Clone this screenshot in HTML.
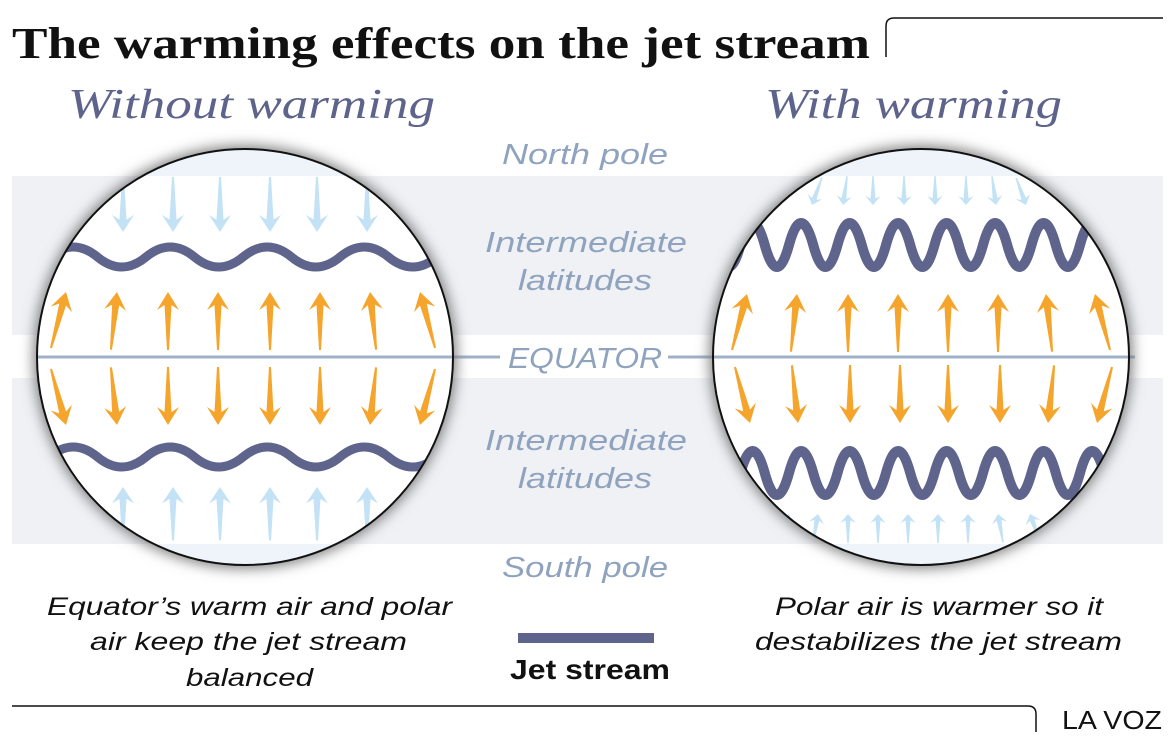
<!DOCTYPE html>
<html><head><meta charset="utf-8"><style>
html,body{margin:0;padding:0;background:#fff}
svg{display:block}
</style></head><body>
<svg width="1175" height="744" viewBox="0 0 1175 744" xmlns="http://www.w3.org/2000/svg">
<defs>
<filter id="blur" x="-20%" y="-20%" width="140%" height="140%"><feGaussianBlur stdDeviation="7"/></filter>
<clipPath id="cl"><circle cx="245" cy="357" r="208"/></clipPath>
<clipPath id="cr"><circle cx="921" cy="357" r="208"/></clipPath>
<symbol id="ar" overflow="visible"><polygon points="0,0 11,18 3.5,13 1,58 -1,58 -3.5,13 -11,18"/></symbol>
</defs>
<rect x="12" y="176" width="1151" height="159" fill="#eff1f5"/>
<rect x="12" y="378" width="1151" height="166" fill="#eff1f5"/>
<text x="12" y="58" textLength="858" lengthAdjust="spacingAndGlyphs" font-family="Liberation Serif, serif" font-weight="bold" font-size="44" fill="#111">The warming effects on the jet stream</text>
<path d="M886 57 V26 Q886 18 894 18 H1163" fill="none" stroke="#111" stroke-width="1.5"/>
<text x="68" y="118" textLength="367" lengthAdjust="spacingAndGlyphs" font-family="Liberation Serif, serif" font-style="italic" font-size="42" fill="#5d638a">Without warming</text>
<text x="765" y="118" textLength="297" lengthAdjust="spacingAndGlyphs" font-family="Liberation Serif, serif" font-style="italic" font-size="42" fill="#5d638a">With warming</text>
<g font-family="Liberation Sans, sans-serif" font-style="italic" font-size="29" fill="#8fa3bf" lengthAdjust="spacingAndGlyphs">
<text x="502" y="164" textLength="166" lengthAdjust="spacingAndGlyphs">North pole</text>
<text x="485" y="252" textLength="202" lengthAdjust="spacingAndGlyphs">Intermediate</text>
<text x="518" y="290" textLength="134" lengthAdjust="spacingAndGlyphs">latitudes</text>
<text x="508" y="368" textLength="154" lengthAdjust="spacingAndGlyphs">EQUATOR</text>
<text x="485" y="450" textLength="202" lengthAdjust="spacingAndGlyphs">Intermediate</text>
<text x="518" y="488" textLength="134" lengthAdjust="spacingAndGlyphs">latitudes</text>
<text x="502" y="577" textLength="166" lengthAdjust="spacingAndGlyphs">South pole</text>
</g>
<line x1="36" y1="357" x2="500" y2="357" stroke="#9fb0c8" stroke-width="3"/>
<line x1="668" y1="357" x2="1135" y2="357" stroke="#9fb0c8" stroke-width="3"/>
<circle cx="245" cy="357" r="211" fill="#777" filter="url(#blur)"/>
<circle cx="921" cy="357" r="211" fill="#777" filter="url(#blur)"/>
<g clip-path="url(#cl)">
<rect x="30" y="140" width="440" height="440" fill="#fff"/>
<rect x="30" y="140" width="440" height="36" fill="#eef4f9"/>
<rect x="30" y="544" width="440" height="40" fill="#eef4f9"/>
<line x1="30" y1="357" x2="470" y2="357" stroke="#9fb0c8" stroke-width="3"/>
<g fill="#c3e2f5">
<use href="#ar" transform="translate(123,232) rotate(180) scale(1,0.95)"/>
<use href="#ar" transform="translate(173,232) rotate(180) scale(1,0.95)"/>
<use href="#ar" transform="translate(220,232) rotate(180) scale(1,0.95)"/>
<use href="#ar" transform="translate(270,232) rotate(180) scale(1,0.95)"/>
<use href="#ar" transform="translate(317,232) rotate(180) scale(1,0.95)"/>
<use href="#ar" transform="translate(367,232) rotate(180) scale(1,0.95)"/>
<use href="#ar" transform="translate(123,487) scale(1,0.92)"/>
<use href="#ar" transform="translate(173,487) scale(1,0.92)"/>
<use href="#ar" transform="translate(220,487) scale(1,0.92)"/>
<use href="#ar" transform="translate(270,487) scale(1,0.92)"/>
<use href="#ar" transform="translate(317,487) scale(1,0.92)"/>
<use href="#ar" transform="translate(367,487) scale(1,0.92)"/>
</g>
<g fill="#f5a42c">
<use href="#ar" transform="translate(66,292) rotate(15)"/>
<use href="#ar" transform="translate(117,292) rotate(6)"/>
<use href="#ar" transform="translate(168,292)"/>
<use href="#ar" transform="translate(218,292)"/>
<use href="#ar" transform="translate(270,292)"/>
<use href="#ar" transform="translate(320,292)"/>
<use href="#ar" transform="translate(370,292) rotate(-6)"/>
<use href="#ar" transform="translate(420,292) rotate(-15)"/>
<use href="#ar" transform="translate(66,425) rotate(165)"/>
<use href="#ar" transform="translate(117,425) rotate(174)"/>
<use href="#ar" transform="translate(168,425) rotate(180)"/>
<use href="#ar" transform="translate(218,425) rotate(180)"/>
<use href="#ar" transform="translate(270,425) rotate(180)"/>
<use href="#ar" transform="translate(320,425) rotate(180)"/>
<use href="#ar" transform="translate(370,425) rotate(186)"/>
<use href="#ar" transform="translate(420,425) rotate(195)"/>
</g>
<g fill="none" stroke="#5e648c" stroke-width="9">
<path d="M-48 257 q24.25 -20 48.5 0 t48.5 0 t48.5 0 t48.5 0 t48.5 0 t48.5 0 t48.5 0 t48.5 0 t48.5 0 t48.5 0 t48.5 0 t48.5 0 t48.5 0"/>
<path d="M-48 457 q24.25 -20 48.5 0 t48.5 0 t48.5 0 t48.5 0 t48.5 0 t48.5 0 t48.5 0 t48.5 0 t48.5 0 t48.5 0 t48.5 0 t48.5 0 t48.5 0"/>
</g>
</g>
<circle cx="245" cy="357" r="208" fill="none" stroke="#111" stroke-width="2"/>
<g clip-path="url(#cr)">
<rect x="705" y="140" width="440" height="440" fill="#fff"/>
<rect x="705" y="140" width="440" height="36" fill="#eef4f9"/>
<rect x="705" y="544" width="440" height="40" fill="#eef4f9"/>
<line x1="705" y1="357" x2="1140" y2="357" stroke="#9fb0c8" stroke-width="3"/>
<g fill="#c3e2f5">
<use href="#ar" transform="translate(812,205) rotate(200) scale(0.7,0.5)"/>
<use href="#ar" transform="translate(843,205) rotate(188) scale(0.7,0.5)"/>
<use href="#ar" transform="translate(873,205) rotate(180) scale(0.7,0.5)"/>
<use href="#ar" transform="translate(904,205) rotate(180) scale(0.7,0.5)"/>
<use href="#ar" transform="translate(935,205) rotate(180) scale(0.7,0.5)"/>
<use href="#ar" transform="translate(966,205) rotate(180) scale(0.7,0.5)"/>
<use href="#ar" transform="translate(996,205) rotate(172) scale(0.7,0.5)"/>
<use href="#ar" transform="translate(1026,205) rotate(160) scale(0.7,0.5)"/>
<use href="#ar" transform="translate(789,514) rotate(20) scale(0.7,0.5)"/>
<use href="#ar" transform="translate(818,514) rotate(10) scale(0.7,0.5)"/>
<use href="#ar" transform="translate(848,514) scale(0.7,0.5)"/>
<use href="#ar" transform="translate(878,514) scale(0.7,0.5)"/>
<use href="#ar" transform="translate(908,514) scale(0.7,0.5)"/>
<use href="#ar" transform="translate(938,514) scale(0.7,0.5)"/>
<use href="#ar" transform="translate(968,514) scale(0.7,0.5)"/>
<use href="#ar" transform="translate(998,514) rotate(-10) scale(0.7,0.5)"/>
<use href="#ar" transform="translate(1030,514) rotate(-20) scale(0.7,0.5)"/>
</g>
<g fill="#f5a42c">
<use href="#ar" transform="translate(747,294) rotate(15)"/>
<use href="#ar" transform="translate(797,294) rotate(6)"/>
<use href="#ar" transform="translate(848,294)"/>
<use href="#ar" transform="translate(898,294)"/>
<use href="#ar" transform="translate(948,294)"/>
<use href="#ar" transform="translate(998,294)"/>
<use href="#ar" transform="translate(1046,294) rotate(-6)"/>
<use href="#ar" transform="translate(1095,294) rotate(-15)"/>
<use href="#ar" transform="translate(750,423) rotate(165)"/>
<use href="#ar" transform="translate(798,423) rotate(174)"/>
<use href="#ar" transform="translate(850,423) rotate(180)"/>
<use href="#ar" transform="translate(900,423) rotate(180)"/>
<use href="#ar" transform="translate(948,423) rotate(180)"/>
<use href="#ar" transform="translate(1000,423) rotate(180)"/>
<use href="#ar" transform="translate(1048,423) rotate(186)"/>
<use href="#ar" transform="translate(1097,423) rotate(195)"/>
</g>
<g fill="none" stroke="#5e648c" stroke-width="10">
<path d="M692 245 q12.1 -44 24.25 0 t24.25 0 t24.25 0 t24.25 0 t24.25 0 t24.25 0 t24.25 0 t24.25 0 t24.25 0 t24.25 0 t24.25 0 t24.25 0 t24.25 0 t24.25 0 t24.25 0 t24.25 0 t24.25 0 t24.25 0 t24.25 0 t24.25 0"/>
<path d="M692 473 q12.1 -44 24.25 0 t24.25 0 t24.25 0 t24.25 0 t24.25 0 t24.25 0 t24.25 0 t24.25 0 t24.25 0 t24.25 0 t24.25 0 t24.25 0 t24.25 0 t24.25 0 t24.25 0 t24.25 0 t24.25 0 t24.25 0 t24.25 0 t24.25 0"/>
</g>
</g>
<circle cx="921" cy="357" r="208" fill="none" stroke="#111" stroke-width="2"/>
<g font-family="Liberation Sans, sans-serif" font-style="italic" font-size="25" fill="#111">
<text x="47" y="615" textLength="405" lengthAdjust="spacingAndGlyphs">Equator’s warm air and polar</text>
<text x="90" y="650" textLength="317" lengthAdjust="spacingAndGlyphs">air keep the jet stream</text>
<text x="186" y="686" textLength="127" lengthAdjust="spacingAndGlyphs">balanced</text>
<text x="775" y="615" textLength="328" lengthAdjust="spacingAndGlyphs">Polar air is warmer so it</text>
<text x="755" y="650" textLength="367" lengthAdjust="spacingAndGlyphs">destabilizes the jet stream</text>
</g>
<line x1="518" y1="638" x2="654" y2="638" stroke="#5e648c" stroke-width="10"/>
<text x="510" y="679" textLength="160" lengthAdjust="spacingAndGlyphs" font-family="Liberation Sans, sans-serif" font-weight="bold" font-size="28" fill="#111">Jet stream</text>
<path d="M12 706 H1028 Q1036 706 1036 714 V732" fill="none" stroke="#111" stroke-width="1.5"/>
<text x="1062" y="729" textLength="100" lengthAdjust="spacingAndGlyphs" font-family="Liberation Sans, sans-serif" font-size="26" fill="#111">LA VOZ</text>
</svg>
</body></html>
